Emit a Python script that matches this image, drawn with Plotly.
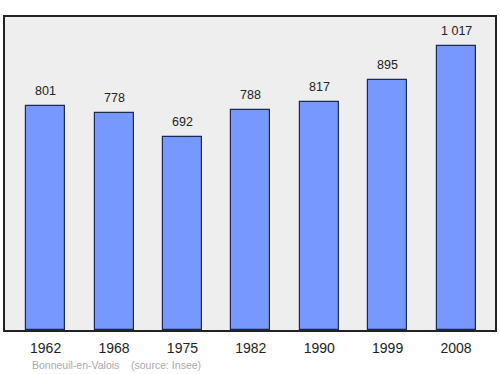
import plotly.graph_objects as go

years = ["1962", "1968", "1975", "1982", "1990", "1999", "2008"]
population = [801, 778, 692, 788, 817, 895, 1017]
commune = "Bonneuil-en-Valois"
source = "(source: Insee)"

def fmt(v):
    return f"{v:,}".replace(",", " ")

pos = list(range(len(years)))
FONT = "Liberation Sans, Arial, sans-serif"

fig = go.Figure()
fig.add_trace(go.Bar(
    x=pos, y=population, width=0.57,
    marker=dict(color="#7799ff", line=dict(color="#1a2a55", width=1.2)),
    hoverinfo="skip",
))
for p, v in zip(pos, population):
    fig.add_annotation(x=p, y=v, text=fmt(v), showarrow=False,
                       yanchor="bottom", yshift=6,
                       font=dict(family=FONT, size=12.5, color="#222222"))

fig.add_annotation(xref="paper", yref="paper", x=(30 - 5) / 490, y=(330 - 365) / 313,
                   xanchor="left", yanchor="middle", showarrow=False,
                   text=commune + "\u00a0\u00a0\u00a0\u00a0" + source,
                   font=dict(family=FONT, size=10.5, color="#aaaaaa"))

fig.update_layout(
    width=500, height=374,
    margin=dict(l=5, r=5, t=17, b=44, autoexpand=False),
    paper_bgcolor="white", plot_bgcolor="#eeeeee",
    showlegend=False, bargap=0,
    font=dict(family=FONT),
    xaxis=dict(range=[-0.594, 6.57], tickvals=pos, ticktext=years,
               showgrid=False, zeroline=False, ticks="", ticklabelstandoff=4,
               showline=True, mirror=True, linecolor="#222222", linewidth=1.5,
               tickfont=dict(family=FONT, size=14, color="#222222")),
    yaxis=dict(range=[0, 1120], showgrid=False, zeroline=False,
               showticklabels=False, ticks="",
               showline=True, mirror=True, linecolor="#222222", linewidth=1.5),
)

fig.write_html("out.html", config={"displayModeBar": False},
               post_script="document.body.style.margin='0';")
